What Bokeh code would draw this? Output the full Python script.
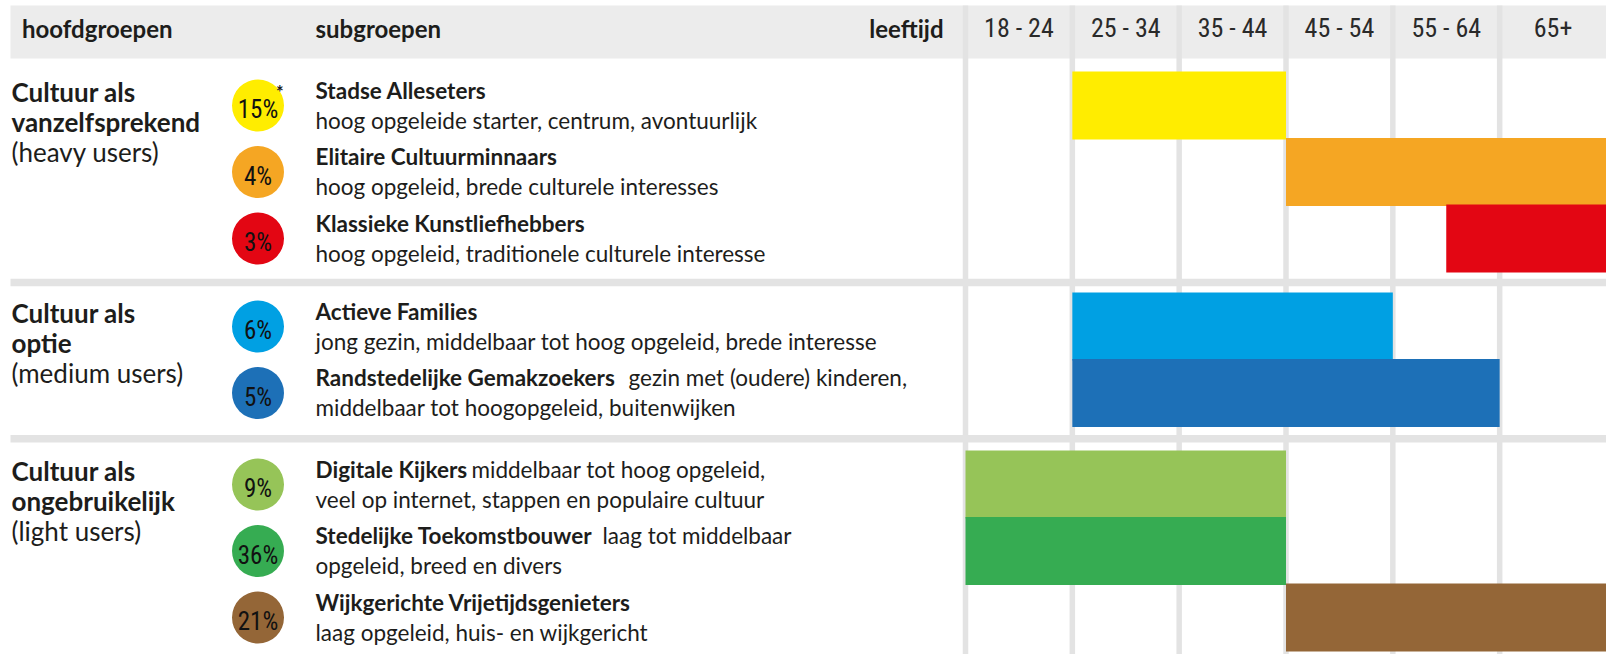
from bokeh.plotting import figure
from bokeh.models import Range1d, ColumnDataSource
from bokeh.core.properties import value
from bokeh.embed import file_html
from bokeh.resources import INLINE

# ---------------- data ----------------
age_labels = ["18 - 24", "25 - 34", "35 - 44", "45 - 54", "55 - 64", "65+"]
header_main = "hoofdgroepen"
header_sub = "subgroepen"
header_age = "leeftijd"

group_title_lines = [["Cultuur als", "vanzelfsprekend"],
                     ["Cultuur als", "optie"],
                     ["Cultuur als", "ongebruikelijk"]]
group_users = ["(heavy users)", "(medium users)", "(light users)"]

segment_group = [0, 0, 0, 1, 1, 2, 2, 2]
segment_names = ["Stadse Alleseters", "Elitaire Cultuurminnaars", "Klassieke Kunstliefhebbers",
                 "Actieve Families", "Randstedelijke Gemakzoekers",
                 "Digitale Kijkers", "Stedelijke Toekomstbouwer", "Wijkgerichte Vrijetijdsgenieters"]
segment_name_tail = ["", "", "", "", "gezin met (oudere) kinderen,",
                     "middelbaar tot hoog opgeleid,", "laag tot middelbaar", ""]
segment_desc = ["hoog opgeleide starter, centrum, avontuurlijk",
                "hoog opgeleid, brede culturele interesses",
                "hoog opgeleid, traditionele culturele interesse",
                "jong gezin, middelbaar tot hoog opgeleid, brede interesse",
                "middelbaar tot hoogopgeleid, buitenwijken",
                "veel op internet, stappen en populaire cultuur",
                "opgeleid, breed en divers",
                "laag opgeleid, huis- en wijkgericht"]
segment_share = [15, 4, 3, 6, 5, 9, 36, 21]
segment_note = ["*", "", "", "", "", "", "", ""]
# age span, in age-column units (0 = start of 18-24, 6 = end of 65+)
age_from = [1, 3, 4.5, 1, 1, 0, 0, 3]
age_to = [3, 6, 6, 4, 5, 3, 3, 6]
segment_colors = ["#FFED00", "#F5A623", "#E30613", "#00A0E3",
                  "#1D70B7", "#96C458", "#36AC52", "#946637"]

# ---------------- layout ----------------
W, H = 1606, 654
COL0 = 965
GROUP_TOP = [71, 292, 450]
PITCH, BAR_H = 66.5, 68
TEXT = "#1d1d1b"
GRID = "#e3e3e3"
FONT = "Lato"
NARROW = "Roboto Condensed, Roboto"
DY = -8.5      # baseline correction for text glyphs
DYN = -4       # baseline correction for the share labels

p = figure(width=W, height=H, output_backend="svg", toolbar_location=None,
           x_range=Range1d(0, W), y_range=Range1d(H, 0),
           x_axis_location=None, y_axis_location=None, min_border=0)
p.outline_line_color = None
p.background_fill_color = "white"
p.border_fill_color = "white"
p.xgrid.grid_line_color = None
p.ygrid.grid_line_color = None
# age columns fill the area from the first grid line to the right edge
n_cols = len(age_labels)
colw = (W - COL0) / n_cols
p.extra_x_ranges = {"age": Range1d(-COL0 / colw, n_cols)}

# row centres
row_in_group = []
counts = {}
for g in segment_group:
    row_in_group.append(counts.get(g, 0))
    counts[g] = counts.get(g, 0) + 1
row_top = [GROUP_TOP[g] + r * PITCH for g, r in zip(segment_group, row_in_group)]
row_center = [t + BAR_H / 2 for t in row_top]

# header band
p.quad(left=[10], right=[W + 20], top=[5], bottom=[58], fill_color="#ececec", line_color=None)

# vertical grid lines
cols = list(range(n_cols))
p.segment(x0=cols, x1=cols, y0=[5] * n_cols, y1=[H + 20] * n_cols,
          x_range_name="age", line_color=GRID, line_width=5.5)

# horizontal separators between groups
sep_y = []
for g in range(1, len(GROUP_TOP)):
    last_bottom = max(t + BAR_H for t, gg in zip(row_top, segment_group) if gg == g - 1)
    sep_y.append((last_bottom + GROUP_TOP[g]) / 2)
p.quad(left=[10] * len(sep_y), right=[W + 20] * len(sep_y),
       top=[y - 3.8 for y in sep_y], bottom=[y + 3.8 for y in sep_y],
       fill_color=GRID, line_color=None)

# bars
bars = ColumnDataSource(dict(
    left=age_from, right=age_to,
    top=row_top, bottom=[t + BAR_H for t in row_top],
    color=segment_colors))
p.quad(left="left", right="right", top="top", bottom="bottom", source=bars,
       x_range_name="age", fill_color="color", line_color=None)

# header texts
p.text(x=[21.5, 315], y=[36 + DY] * 2, text=[header_main, header_sub], text_font=value(FONT),
       text_font_size="24px", text_font_style="bold", text_color=TEXT,
       text_baseline="alphabetic")
p.text(x=[943], y=[36 + DY], text=[header_age], text_font=value(FONT),
       text_font_size="24px", text_font_style="bold", text_color=TEXT,
       text_baseline="alphabetic", text_align="right")
p.text(x=[c + 0.5 for c in cols], y=[36.5 - 9.5] * n_cols, text=age_labels, x_range_name="age",
       text_font=value(NARROW), text_font_size="26px", text_color="#2a2a2a",
       text_baseline="alphabetic", text_align="center")

# group titles
first_center = [min(c for c, gg in zip(row_center, segment_group) if gg == g) for g in range(3)]
gx, gy, gt = [], [], []
for g, lines in enumerate(group_title_lines):
    for i, line in enumerate(lines):
        gx.append(11); gy.append(first_center[g] - 5 + 30 * i + DY); gt.append(line)
p.text(x=gx, y=gy, text=gt, text_font=value(FONT), text_font_size="26px",
       text_font_style="bold", text_color=TEXT, text_baseline="alphabetic")
p.text(x=[11] * 3, y=[first_center[g] - 5 + 60 + DY for g in range(3)], text=group_users,
       text_font=value(FONT), text_font_size="26px", text_color=TEXT,
       text_baseline="alphabetic")

# circles with share
CX = 257.5
p.scatter(x=[CX] * len(segment_share), y=row_center, size=52, marker="circle",
          fill_color=segment_colors, line_color=None)
p.text(x=[CX] * len(segment_share), y=[c + 8 + DYN for c in row_center],
       text=[f"{s}%" for s in segment_share], text_font=value(NARROW),
       text_font_size="25px", text_color="#111111", text_align="center",
       text_baseline="alphabetic")
note_idx = [i for i, n in enumerate(segment_note) if n]
p.text(x=[CX + 18 for i in note_idx], y=[row_center[i] - 10 + DYN for i in note_idx],
       text=[segment_note[i] for i in note_idx], text_font=value(FONT),
       text_font_size="18px", text_font_style="bold", text_color=TEXT,
       text_baseline="alphabetic")

# subgroup names and descriptions
SX = 315
SUB_SIZE = "22.5px"
p.text(x=[SX] * len(segment_names), y=[c - 7 + DY for c in row_center], text=segment_names,
       text_font=value(FONT), text_font_size=SUB_SIZE, text_font_style="bold",
       text_color=TEXT, text_baseline="alphabetic")
TAIL_X = [0, 0, 0, 0, 628, 471, 602, 0]
tail_idx = [i for i, t in enumerate(segment_name_tail) if t]
p.text(x=[TAIL_X[i] for i in tail_idx], y=[row_center[i] - 7 + DY for i in tail_idx],
       text=[segment_name_tail[i] for i in tail_idx], text_font=value(FONT),
       text_font_size=SUB_SIZE, text_color=TEXT, text_baseline="alphabetic")
p.text(x=[SX] * len(segment_desc), y=[c + 23 + DY for c in row_center], text=segment_desc,
       text_font=value(FONT), text_font_size=SUB_SIZE, text_color=TEXT,
       text_baseline="alphabetic")

open("out.html", "w").write(file_html(p, INLINE))
